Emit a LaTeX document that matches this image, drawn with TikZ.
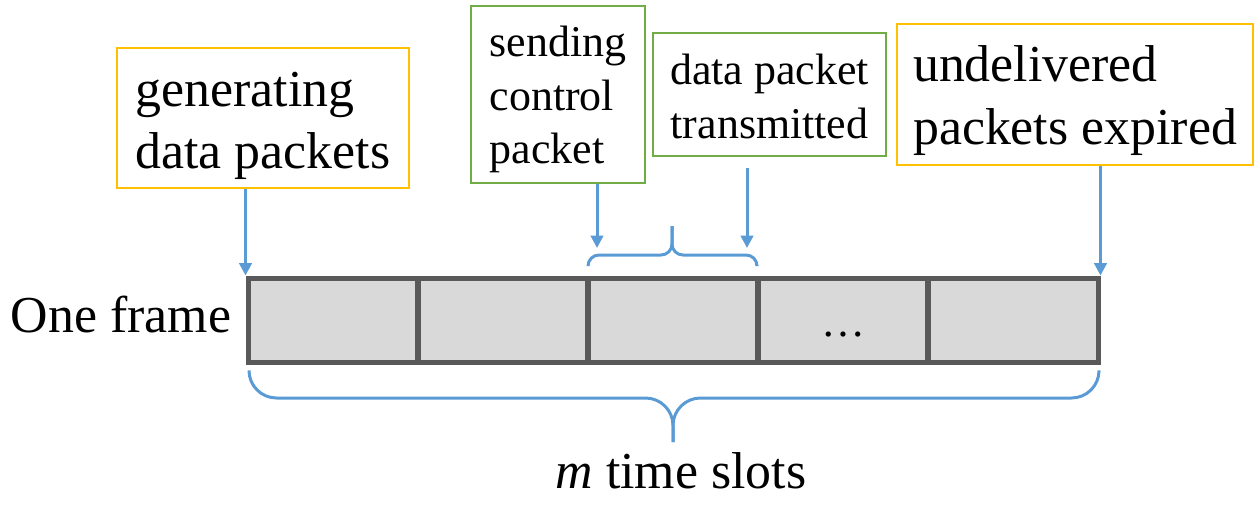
\documentclass[tikz,border=0pt]{standalone}
\usepackage{fontspec}
\setmainfont{LiberationSerif}[Extension=.ttf, UprightFont=*-Regular,
  ItalicFont=*-Italic, BoldFont=*-Bold]
\usetikzlibrary{arrows.meta}

\definecolor{boxorange}{HTML}{FFC000}
\definecolor{boxgreen}{HTML}{70AD47}
\definecolor{lineblue}{HTML}{5B9BD5}
\definecolor{slotgray}{HTML}{D9D9D9}
\definecolor{framegray}{HTML}{595959}

\tikzset{
  bigtext/.style={font=\fontsize{29.5}{35.7}\selectfont},
  smalltext/.style={font=\fontsize{25}{30.6}\selectfont},
  slotbox/.style={draw=framegray, fill=slotgray, line width=0.1cm,
    minimum width=3.4cm, minimum height=1.68cm, inner sep=0pt},
  evbox/.style={draw, line width=0.04cm, align=left, inner sep=0pt},
  arr/.style={draw=lineblue, line width=0.06cm,
    -{Triangle[length=0.25cm, width=0.25cm]}},
  brc/.style={draw=lineblue, line width=0.06cm}
}

\begin{document}
\begin{tikzpicture}[x=0.02cm, y=-0.02cm]
        \useasboundingbox (0,0) rectangle (1260,511);

        % frame of m slots
        \foreach \i in {1,...,5}
          \node[slotbox] (slot\i) at (163+170*\i,320) {};
        \node[smalltext, anchor=base] (dots) at (843,336) {…};
        \node[bigtext, anchor=base] (oneframe) at (121,332) {One frame};

        % event boxes
        \node[evbox, bigtext, draw=boxorange, text height=2.25cm, minimum width=5.84cm, minimum height=2.8cm]
          (gen) at (263,118) {generating\\data packets};
        \node[evbox, smalltext, draw=boxgreen, text height=2.96cm, minimum width=3.48cm, minimum height=3.54cm]
          (send) at (558,94.5) {sending\\control\\packet};
        \node[evbox, smalltext, draw=boxgreen, align=center, text height=1.76cm, minimum width=4.66cm, minimum height=2.46cm]
          (data) at (769.5,94.5) {data packet\\transmitted};
        \node[evbox, bigtext, draw=boxorange, text height=2.21cm, minimum width=7.12cm, minimum height=2.82cm]
          (undel) at (1075,94.5) {undelivered\\packets expired};

        % arrow ends
        \coordinate (sendtip) at (597,248);
        \coordinate (datatip) at (747,248);
        \coordinate (datatail) at (747,168);

        \draw[arr] (gen.south -| slot1.north west) -- (slot1.north west);
        \draw[arr] (send.south -| sendtip) -- (sendtip);
        \draw[arr] (datatail) -- (datatip);
        \draw[arr] (undel.south -| slot5.north east) -- (slot5.north east);

        % small brace over slot 3
        \draw[brc, rounded corners=0.22cm] (588,265) |- (672,255) -- (672,226);
        \draw[brc, rounded corners=0.22cm] (757,265) |- (672,255) -- (672,226);

        % big brace under the frame
        \draw[brc, rounded corners=0.55cm] (249,372) |- (673,398) -- (673,442);
        \draw[brc, rounded corners=0.55cm] (1099,372) |- (673,398) -- (673,442);
        \node[bigtext, anchor=base] (mslots) at (681,488) {\textit{m} time slots};

    \end{tikzpicture}
\end{document}
